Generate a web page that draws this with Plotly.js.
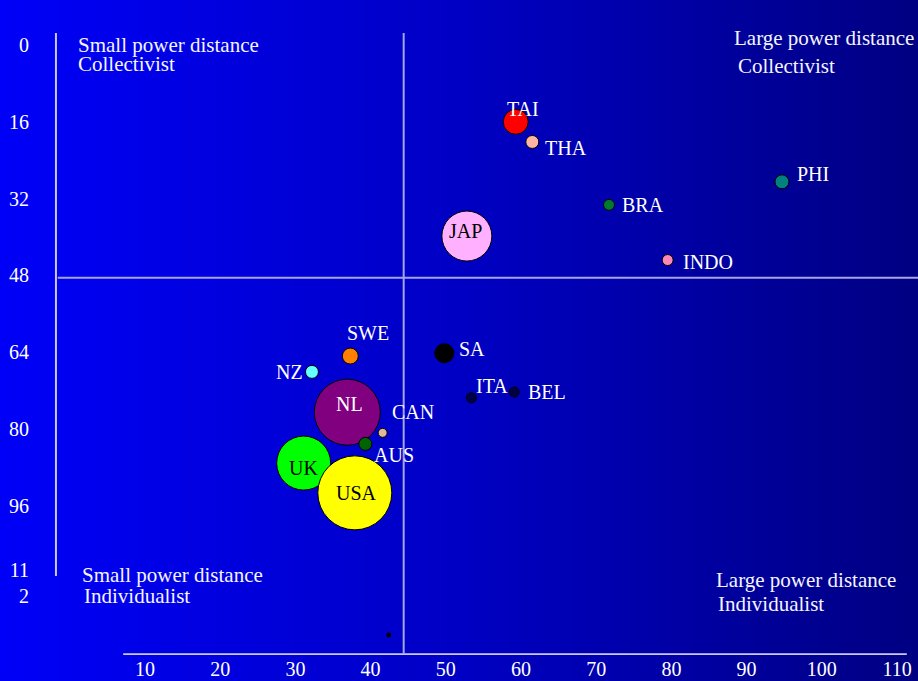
<!DOCTYPE html>
<html>
<head>
<meta charset="utf-8">
<script src="https://cdn.plot.ly/plotly-3.0.1.min.js"></script>
<style>
	html, body { margin: 0; padding: 0; }
	#chart {
		width: 918px; height: 681px;
		background: linear-gradient(to right, #0000f8 0%, #0000c4 50%, #000082 100%);
	}
</style>
</head>
<body>
<div id="chart"></div>
<script>
// Country positions: power distance (x) vs individualism scale (y, 0 at top)
var countries = ['TAI', 'THA', 'PHI', 'BRA', 'JAP', 'INDO', 'SWE', 'SA', 'NZ',
	'ITA', 'BEL', 'NL', 'CAN', 'AUS', 'UK', 'USA', ''];
var powerDistance = [59.3, 61.5, 94.7, 71.7, 52.8, 79.5, 37.3, 49.8, 32.2,
	53.4, 59.1, 36.9, 41.6, 39.3, 31.1, 37.9, 42.4];
var individualism = [16.0, 20.2, 28.5, 33.3, 39.8, 44.8, 64.8, 64.2, 68.1,
	73.5, 72.3, 76.5, 80.8, 83.1, 87.1, 93.3, 122.9];
var bubbleSize = [25, 13, 14, 11, 50, 11, 16, 19, 13, 10, 10, 66, 9, 13, 54, 74, 4];

var xTicks = [10, 20, 30, 40, 50, 60, 70, 80, 90, 100, 110];
var yTicks = [0, 16, 32, 48, 64, 80, 96, 112];
var yTickText = ['0', '16', '32', '48', '64', '80', '96', '11<br>2'];

// divider positions (means)
var xDivider = 44.4;
var yDivider = 48.5;

// styling
var markerColors = ['#ff0000', '#ffb4a4', '#008080', '#007a30', '#ffb0ff', '#ff88b8',
	'#ff8000', '#000000', '#66ffff', '#000044', '#000044', '#800080', '#e0b898',
	'#006400', '#00ff00', '#ffff00', '#000000'];
// [anchor, xshift, yshift, colour] for each label
var labelStyle = [
	['center', 7, 13, 'white'], ['left', 12, -6, 'white'], ['left', 14, 8, 'white'],
	['left', 12, 0, 'white'], ['center', -1, 5, 'black'], ['left', 14, -2, 'white'],
	['center', 18, 23, 'white'], ['left', 14, 4, 'white'], ['right', -8, 0, 'white'],
	['left', 4, 12, 'white'], ['left', 13, 0, 'white'], ['center', 2, 8, 'white'],
	['left', 8, 21, 'white'], ['left', 8, -11, 'white'], ['center', 0, -5, 'black'],
	['center', 2, 0, 'black']
];

var serif = 'Liberation Serif, Times New Roman, serif';

var trace = {
	x: powerDistance,
	y: individualism,
	mode: 'markers',
	type: 'scatter',
	hoverinfo: 'none',
	marker: {
		size: bubbleSize,
		sizemode: 'diameter',
		color: markerColors,
		opacity: 1,
		line: { color: '#000000', width: 1 }
	}
};

var annotations = [];
for (var i = 0; i < countries.length; i++) {
	if (!countries[i]) continue;
	var s = labelStyle[i];
	annotations.push({
		x: powerDistance[i], y: individualism[i],
		xref: 'x', yref: 'y',
		text: countries[i],
		showarrow: false,
		xanchor: s[0], yanchor: 'middle',
		xshift: s[1], yshift: s[2],
		borderpad: 0,
		font: { family: serif, size: 20, color: s[3] }
	});
}

// quadrant captions (paper coords: plot area is x 30..918, y 0..655 px)
function px(x) { return (x - 30) / 888; }
function py(y) { return 1 - y / 655; }
var quadText = [
	['Small power distance', 77, 45], ['Collectivist', 77, 64],
	['Large power distance', 733, 38], ['Collectivist', 737, 66],
	['Small power distance', 81, 575], ['Individualist', 83, 596],
	['Large power distance', 715, 580], ['Individualist', 717, 604]
];
quadText.forEach(function(q) {
	annotations.push({
		x: px(q[1]), y: py(q[2]),
		xref: 'paper', yref: 'paper',
		text: q[0], showarrow: false,
		xanchor: 'left', yanchor: 'middle',
		borderpad: 0,
		font: { family: serif, size: 21, color: '#f4f4ff' }
	});
});

var lineCol = '#a4a4e4';
var shapes = [
	// dividers
	{ type: 'line', xref: 'x', yref: 'y', x0: xDivider, x1: xDivider, y0: -2.5, y1: 126.7,
	  line: { color: lineCol, width: 2 } },
	{ type: 'line', xref: 'x', yref: 'y', x0: -1.6, x1: 112.8, y0: yDivider, y1: yDivider,
	  line: { color: lineCol, width: 2 } },
	// axis lines
	{ type: 'line', xref: 'x', yref: 'y', x0: -1.84, x1: -1.84, y0: -2.5, y1: 110.6,
	  line: { color: '#c8c8f0', width: 2 } },
	{ type: 'line', xref: 'x', yref: 'y', x0: 7.1, x1: 111.3, y0: 126.9, y1: 126.9,
	  line: { color: '#c8c8f0', width: 2 } }
];

var layout = {
	width: 918, height: 681,
	margin: { l: 30, r: 0, t: 0, b: 26 },
	paper_bgcolor: 'rgba(0,0,0,0)',
	plot_bgcolor: 'rgba(0,0,0,0)',
	showlegend: false,
	xaxis: {
		range: [-5.29, 112.79],
		tickvals: xTicks,
		ticktext: xTicks.map(String),
		showgrid: false, zeroline: false, showline: false,
		ticks: '',
		tickfont: { family: serif, size: 20, color: '#ffffff' }
	},
	yaxis: {
		range: [127.08, -9.375],
		tickvals: yTicks,
		ticktext: yTickText,
		showgrid: false, zeroline: false, showline: false,
		ticks: '',
		tickfont: { family: serif, size: 20, color: '#ffffff' }
	},
	shapes: shapes,
	annotations: annotations
};

Plotly.newPlot('chart', [trace], layout, { displayModeBar: false, staticPlot: true });
</script>
</body>
</html>
